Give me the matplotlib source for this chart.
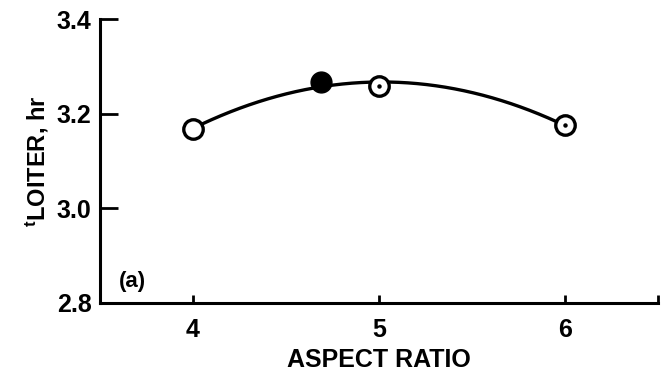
import numpy as np
import matplotlib.pyplot as plt

plt.rcParams['font.family'] = 'Liberation Sans'
plt.rcParams['font.weight'] = 'bold'
plt.rcParams['mathtext.fontset'] = 'custom'
plt.rcParams['mathtext.rm'] = 'Liberation Sans:bold'
plt.rcParams['mathtext.it'] = 'Liberation Sans:bold'

# values
aspect = [4.0, 5.0, 6.0]
t_loiter = [3.167, 3.258, 3.176]
opt_aspect = [4.69]
opt_loiter = [3.267]
dotted = [False, True, True]

x_ticks = [4, 5, 6]
y_ticks = [2.8, 3.0, 3.2, 3.4]

fig = plt.figure(figsize=(6.69, 3.82), dpi=100)
ax = fig.add_axes([0.1495, 0.207, 0.834, 0.743])

# smooth fitted curve through all points
xs_all = np.array(aspect + opt_aspect)
ys_all = np.array(t_loiter + opt_loiter)
coef = np.polyfit(xs_all, ys_all, 2)
xc = np.linspace(min(aspect), max(aspect), 200)
ax.plot(xc, np.polyval(coef, xc), color='black', lw=2.4, zorder=2)

ax.plot(aspect, t_loiter, 'o', ms=14, mfc='white', mec='black', mew=2.4, zorder=3)
for x, y, d in zip(aspect, t_loiter, dotted):
    if d:
        ax.plot(x, y, 'o', ms=2.2, color='black', zorder=4)
ax.plot(opt_aspect, opt_loiter, 'o', ms=15, color='black', zorder=4)

ax.set_xlim(3.5, 6.5)
ax.set_ylim(2.8, 3.4)
ax.set_xticks(x_ticks)
ax.set_xticks([6.5], minor=True)
ax.set_yticks(y_ticks)
ax.set_yticklabels([f'{v:.1f}' for v in y_ticks])

for s in ['top', 'right']:
    ax.spines[s].set_visible(False)
for s in ['left', 'bottom']:
    ax.spines[s].set_linewidth(2.2)

ax.tick_params(axis='y', direction='in', length=13, width=2, pad=6, labelsize=18)
ax.tick_params(axis='x', which='major', direction='in', length=6, width=2, pad=11, labelsize=18)
ax.tick_params(axis='x', which='minor', direction='in', length=6, width=2)

ax.set_xlabel('ASPECT RATIO', fontsize=18, fontweight='bold', labelpad=4)
ax.set_ylabel(r'$^{\mathrm{t}}\mathrm{LOITER}$, hr', fontsize=17, fontweight='bold', labelpad=4)

ax.text(0.059, 0.074, '(a)', transform=ax.transAxes, fontsize=16,
        fontweight='bold', ha='center', va='center')

fig.savefig('out.png', dpi=100)
